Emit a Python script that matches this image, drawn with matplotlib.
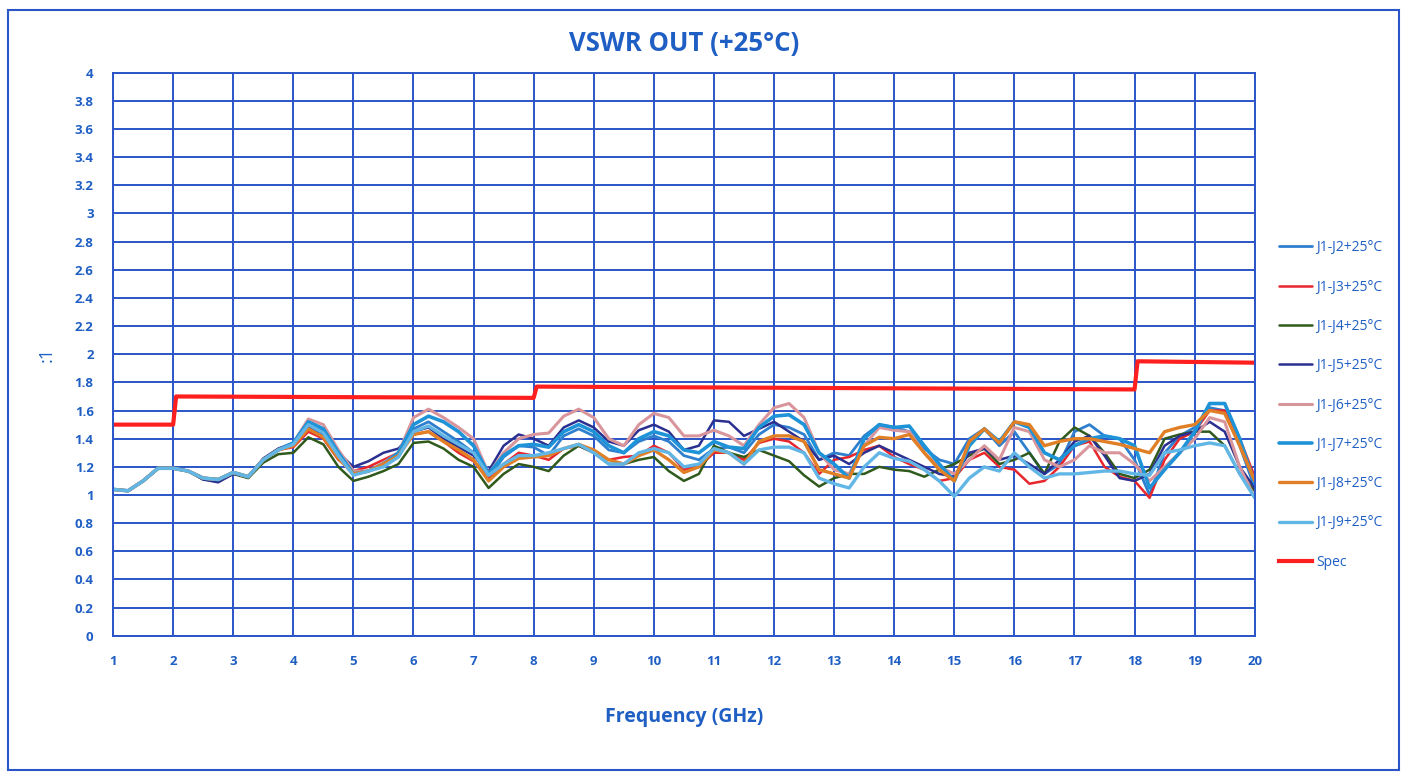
import numpy as np
import matplotlib.pyplot as plt
from matplotlib.patches import Rectangle

# Frequency grid (GHz), one sample every 0.25 GHz
freq = np.arange(1.0, 20.001, 0.25)

# 1 - 3.75 GHz: all ports nearly identical
low_band = [1.04, 1.03, 1.10, 1.19, 1.19, 1.17, 1.12, 1.11, 1.16, 1.13, 1.25, 1.32]

j2 = low_band + [1.36, 1.50, 1.45, 1.28,
                 1.15, 1.17, 1.22, 1.29,
                 1.47, 1.52, 1.45, 1.38,
                 1.30, 1.12, 1.27, 1.35,
                 1.34, 1.28, 1.42, 1.47,
                 1.42, 1.32, 1.30, 1.38,
                 1.42, 1.38, 1.28, 1.25,
                 1.33, 1.34, 1.30, 1.43,
                 1.50, 1.48, 1.43, 1.25,
                 1.30, 1.28, 1.42, 1.50,
                 1.48, 1.45, 1.33, 1.25,
                 1.22, 1.40, 1.47, 1.35,
                 1.45, 1.30, 1.15, 1.22,
                 1.45, 1.50, 1.42, 1.40,
                 1.25, 1.00, 1.30, 1.42,
                 1.48, 1.62, 1.60, 1.35,
                 1.05]
j3 = low_band + [1.34, 1.45, 1.40, 1.25,
                 1.17, 1.20, 1.25, 1.30,
                 1.43, 1.45, 1.38, 1.30,
                 1.24, 1.12, 1.22, 1.30,
                 1.28, 1.25, 1.33, 1.35,
                 1.30, 1.25, 1.27, 1.28,
                 1.35, 1.30, 1.18, 1.20,
                 1.30, 1.30, 1.25, 1.37,
                 1.40, 1.38, 1.30, 1.15,
                 1.25, 1.27, 1.32, 1.35,
                 1.27, 1.22, 1.18, 1.10,
                 1.12, 1.25, 1.30, 1.20,
                 1.18, 1.08, 1.10, 1.20,
                 1.35, 1.38, 1.20, 1.13,
                 1.10, 0.98, 1.25, 1.40,
                 1.45, 1.60, 1.60, 1.40,
                 1.13]
j4 = [1.04, 1.03, 1.10, 1.19, 1.19, 1.17, 1.11, 1.10, 1.15, 1.12, 1.23, 1.29] + [
                 1.30, 1.41, 1.36, 1.20,
                 1.10, 1.13, 1.17, 1.22,
                 1.37, 1.38, 1.33, 1.25,
                 1.20, 1.05, 1.15, 1.22,
                 1.20, 1.17, 1.28, 1.35,
                 1.30, 1.22, 1.22, 1.25,
                 1.27, 1.17, 1.10, 1.15,
                 1.35, 1.30, 1.27, 1.32,
                 1.28, 1.24, 1.14, 1.06,
                 1.12, 1.15, 1.15, 1.20,
                 1.18, 1.17, 1.13, 1.18,
                 1.22, 1.28, 1.33, 1.22,
                 1.25, 1.30, 1.15, 1.38,
                 1.48, 1.42, 1.30, 1.15,
                 1.12, 1.18, 1.40, 1.43,
                 1.45, 1.45, 1.35, 1.15,
                 1.03]
j5 = [1.04, 1.03, 1.10, 1.19, 1.19, 1.17, 1.11, 1.09, 1.15, 1.13, 1.26, 1.33] + [
                 1.37, 1.49, 1.43, 1.30,
                 1.20, 1.24, 1.30, 1.33,
                 1.45, 1.48, 1.40, 1.34,
                 1.28, 1.17, 1.35, 1.43,
                 1.40, 1.35, 1.48, 1.53,
                 1.48, 1.38, 1.35, 1.46,
                 1.50, 1.45, 1.32, 1.35,
                 1.53, 1.52, 1.42, 1.47,
                 1.52, 1.45, 1.38, 1.25,
                 1.28, 1.22, 1.30, 1.35,
                 1.30, 1.25, 1.20, 1.15,
                 1.13, 1.30, 1.33, 1.25,
                 1.28, 1.22, 1.15, 1.25,
                 1.38, 1.42, 1.28, 1.12,
                 1.10, 1.15, 1.35, 1.42,
                 1.45, 1.52, 1.45, 1.20,
                 1.05]
j6 = low_band + [1.37, 1.54, 1.50, 1.32,
                 1.17, 1.17, 1.23, 1.30,
                 1.55, 1.61, 1.55, 1.48,
                 1.40, 1.15, 1.30, 1.40,
                 1.43, 1.44, 1.56, 1.61,
                 1.55, 1.40, 1.35, 1.50,
                 1.58, 1.55, 1.42, 1.42,
                 1.46, 1.42, 1.35, 1.50,
                 1.62, 1.65, 1.55, 1.30,
                 1.18, 1.15, 1.35, 1.48,
                 1.46, 1.45, 1.30, 1.20,
                 1.15, 1.25, 1.35, 1.25,
                 1.48, 1.45, 1.25, 1.20,
                 1.25, 1.35, 1.30, 1.30,
                 1.22, 1.10, 1.20, 1.30,
                 1.40, 1.55, 1.52, 1.20,
                 0.98]
j7 = low_band + [1.37, 1.52, 1.47, 1.30,
                 1.15, 1.17, 1.22, 1.30,
                 1.50, 1.56, 1.52, 1.45,
                 1.35, 1.15, 1.28, 1.35,
                 1.36, 1.34, 1.45, 1.50,
                 1.45, 1.35, 1.30, 1.40,
                 1.45, 1.42, 1.32, 1.30,
                 1.38, 1.34, 1.33, 1.48,
                 1.56, 1.57, 1.50, 1.30,
                 1.22, 1.12, 1.40, 1.50,
                 1.48, 1.49, 1.35, 1.22,
                 1.10, 1.35, 1.47, 1.38,
                 1.52, 1.48, 1.30, 1.25,
                 1.35, 1.40, 1.42, 1.40,
                 1.35, 1.05, 1.18, 1.30,
                 1.45, 1.65, 1.65, 1.40,
                 1.08]
j8 = low_band + [1.35, 1.47, 1.41, 1.26,
                 1.15, 1.17, 1.22, 1.28,
                 1.43, 1.45, 1.38, 1.32,
                 1.25, 1.10, 1.20, 1.26,
                 1.27, 1.28, 1.33, 1.36,
                 1.32, 1.25, 1.22, 1.28,
                 1.32, 1.25, 1.16, 1.20,
                 1.32, 1.30, 1.22, 1.38,
                 1.42, 1.42, 1.38, 1.18,
                 1.15, 1.12, 1.35, 1.41,
                 1.40, 1.43, 1.30, 1.18,
                 1.10, 1.38, 1.47, 1.37,
                 1.52, 1.50, 1.35, 1.38,
                 1.40, 1.40, 1.38, 1.36,
                 1.33, 1.30, 1.45, 1.48,
                 1.50, 1.60, 1.58, 1.35,
                 1.10]
j9 = low_band + [1.36, 1.50, 1.44, 1.28,
                 1.14, 1.17, 1.20, 1.27,
                 1.45, 1.49, 1.42, 1.36,
                 1.30, 1.14, 1.22, 1.28,
                 1.28, 1.30, 1.33, 1.36,
                 1.30, 1.22, 1.22, 1.30,
                 1.33, 1.30, 1.20, 1.22,
                 1.33, 1.30, 1.22, 1.32,
                 1.34, 1.34, 1.30, 1.12,
                 1.08, 1.05, 1.20, 1.30,
                 1.26, 1.24, 1.18, 1.10,
                 0.99, 1.12, 1.20, 1.17,
                 1.30, 1.20, 1.12, 1.15,
                 1.15, 1.16, 1.17, 1.17,
                 1.15, 1.14, 1.30, 1.32,
                 1.35, 1.37, 1.35, 1.15,
                 0.98]

# Spec limit (stepped)
spec_freq = [1, 2, 2.05, 8, 8.05, 18, 18.05, 20]
spec_vals = [1.5, 1.5, 1.7, 1.69, 1.77, 1.75, 1.95, 1.94]

labels = ["J1-J2+25°C", "J1-J3+25°C", "J1-J4+25°C", "J1-J5+25°C",
          "J1-J6+25°C", "J1-J7+25°C", "J1-J8+25°C", "J1-J9+25°C"]
series = [j2, j3, j4, j5, j6, j7, j8, j9]
colors = ["#2f7fcf", "#e8262e", "#2f5a1c", "#2b2f8f",
          "#d9959c", "#1f93d8", "#e07f25", "#62b6e6"]
widths = [2.0, 1.8, 1.8, 1.8, 2.2, 2.6, 2.4, 2.4]

blue = "#1f5fc4"
grid_blue = "#2a55c8"

plt.rcParams['font.family'] = ['Open Sans', 'DejaVu Sans']

fig = plt.figure(figsize=(14.13, 7.82), dpi=100)
ax = fig.add_axes([0.080, 0.187, 0.808, 0.720])

for vals, lab, c, w in zip(series, labels, colors, widths):
    ax.plot(freq, vals, color=c, lw=w, label=lab, solid_capstyle='round')
ax.plot(spec_freq, spec_vals, color="#ff1f1f", lw=3.0, label="Spec")

ax.set_xlim(1, 20)
ax.set_ylim(0, 4)
ax.set_xticks(range(1, 21))
ax.set_yticks(np.arange(0, 4.01, 0.2))
ax.set_yticklabels([f"{v:g}" for v in np.round(np.arange(0, 4.01, 0.2), 1)])
ax.grid(True, color=grid_blue, lw=1.4)
ax.set_axisbelow(True)
for s in ax.spines.values():
    s.set_color(grid_blue)
    s.set_linewidth(1.4)
ax.tick_params(length=0, colors=blue, labelsize=9.5)
ax.tick_params(axis='x', pad=14)
ax.tick_params(axis='y', pad=14)
for t in ax.get_xticklabels() + ax.get_yticklabels():
    t.set_fontweight('bold')

ax.set_title("VSWR OUT (+25°C)", color=blue, fontsize=18.5, fontweight='bold', pad=16)
ax.set_xlabel("Frequency (GHz)", color=blue, fontsize=14, fontweight='bold', labelpad=28)
ax.set_ylabel(":1", color=blue, fontsize=13, labelpad=14)

leg = fig.legend(loc='center left', bbox_to_anchor=(0.896, 0.482), frameon=False,
                 fontsize=10, labelspacing=1.75, handlelength=2.4, handletextpad=0.3)
for t in leg.get_texts():
    t.set_color(blue)

fig.patches.append(Rectangle((0.006, 0.015), 0.984, 0.972, transform=fig.transFigure,
                             fill=False, edgecolor=grid_blue, lw=1.5))

fig.savefig("out.png", dpi=100)
